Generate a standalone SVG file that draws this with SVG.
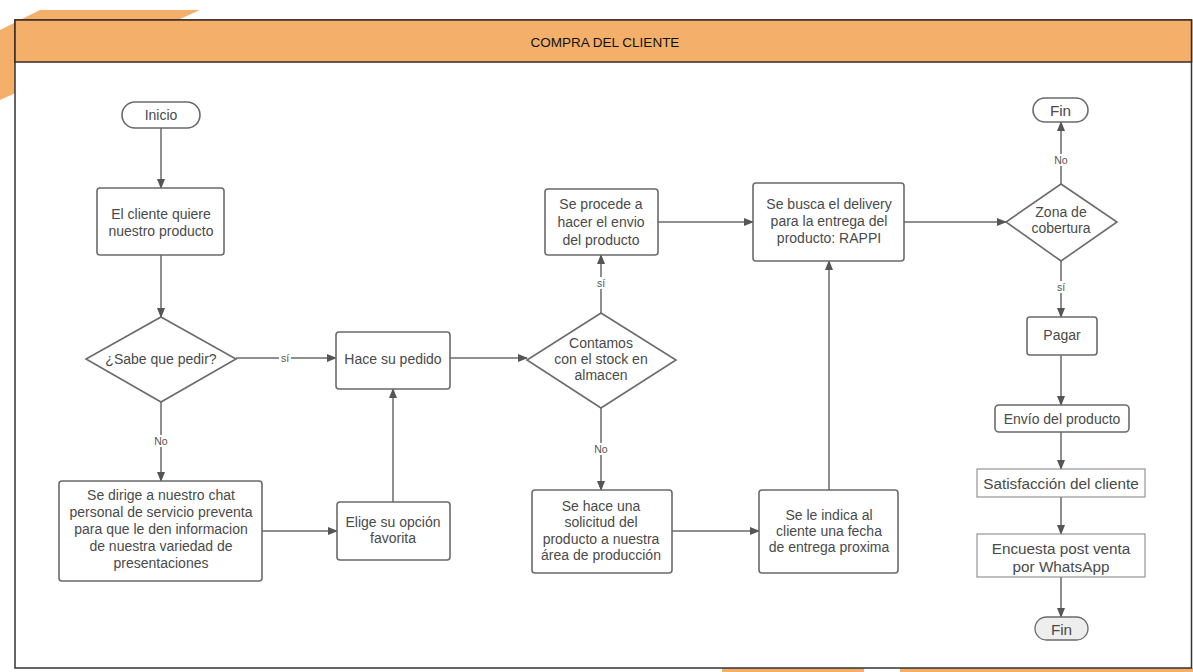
<svg xmlns="http://www.w3.org/2000/svg" width="1193" height="672" viewBox="0 0 1193 672">
<defs>
<marker id="ah" markerWidth="10" markerHeight="8" refX="9" refY="4" orient="auto" markerUnits="userSpaceOnUse">
<path d="M0,0 L10,4 L0,8 Z" fill="#555"/>
</marker>
<style>
.box{fill:#fff;stroke:#6a6a6a;stroke-width:1.6}
.thin{fill:#fff;stroke:#8a8a8a;stroke-width:1.1}
.t{font-family:"Liberation Sans",Arial,sans-serif;font-size:14px;fill:#4a4a4a;text-anchor:middle;dominant-baseline:central}
.tl{font-family:"Liberation Sans",Arial,sans-serif;font-size:15.3px;fill:#4a4a4a;text-anchor:middle;dominant-baseline:central}
.lbl{font-family:"Liberation Sans",Arial,sans-serif;font-size:10.5px;fill:#555;text-anchor:middle;dominant-baseline:central}
.c{fill:none;stroke:#6a6a6a;stroke-width:1.5;marker-end:url(#ah)}
</style>
</defs>
<rect width="1193" height="672" fill="#fff"/>
<g id="decor">
<polygon points="40,10 200,10 0,100 0,30" fill="#F4B06A"/>
<rect x="722" y="668" width="142" height="4" fill="#F4B06A"/>
<rect x="900" y="668" width="293" height="4" fill="#F4B06A"/>
</g>
<g id="frame">
<rect x="15" y="20" width="1176.5" height="648" fill="#fff" stroke="#333" stroke-width="1.5"/>
<rect x="15" y="20" width="1176.5" height="42" fill="#F4B06A" stroke="#3a2a20" stroke-width="1.5"/>
<text x="605" y="42" style="font-family:'Liberation Sans',Arial,sans-serif;font-size:13.5px;fill:#111;text-anchor:middle;dominant-baseline:central">COMPRA DEL CLIENTE</text>
</g>
<g id="connectors">
<path class="c" d="M161,128 V188"/>
<path class="c" d="M161,255 V317"/>
<path class="c" d="M236,358 H336"/>
<path class="c" d="M161,402 V481"/>
<path class="c" d="M262,531 H337"/>
<path class="c" d="M393,502 V389"/>
<path class="c" d="M450,358 H527"/>
<path class="c" d="M601,313 V255"/>
<path class="c" d="M601,408 V490"/>
<path class="c" d="M658,222 H753"/>
<path class="c" d="M672,531 H759"/>
<path class="c" d="M829,490 V261"/>
<path class="c" d="M904,222 H1006"/>
<path class="c" d="M1061,184 V122"/>
<path class="c" d="M1061,261 V317"/>
<path class="c" d="M1061,355 V405"/>
<path class="c" d="M1061,432 V469"/>
<path class="c" d="M1061,497 V534"/>
<path class="c" d="M1061,577 V617"/>
<rect x="279" y="352" width="12" height="12" fill="#fff"/>
<text class="lbl" x="285" y="358">sí</text>
<rect x="151" y="435" width="20" height="12" fill="#fff"/>
<text class="lbl" x="161" y="441">No</text>
<rect x="595" y="277" width="12" height="12" fill="#fff"/>
<text class="lbl" x="601" y="283">sí</text>
<rect x="591" y="443" width="20" height="12" fill="#fff"/>
<text class="lbl" x="601" y="449">No</text>
<rect x="1051" y="154" width="20" height="12" fill="#fff"/>
<text class="lbl" x="1061" y="160">No</text>
<rect x="1055" y="281" width="12" height="12" fill="#fff"/>
<text class="lbl" x="1061" y="287">sí</text>
</g>
<g id="inicio">
<rect class="box" x="122" y="102" width="78" height="26" rx="13"/>
<text class="t" x="161" y="115">Inicio</text>
</g>
<g id="cliente-quiere">
<rect class="box" x="97" y="188" width="127" height="67" rx="3"/>
<text class="t" x="161" y="214">El cliente quiere</text>
<text class="t" x="161" y="231">nuestro producto</text>
</g>
<g id="sabe-pedir">
<polygon class="box" points="161,317 236,359 161,402 86,359"/>
<text class="t" x="161" y="359">¿Sabe que pedir?</text>
</g>
<g id="se-dirige">
<rect class="box" x="59" y="481" width="203" height="100" rx="3"/>
<text class="t" x="161" y="495">Se dirige a nuestro chat</text>
<text class="t" x="161" y="512">personal de servicio preventa</text>
<text class="t" x="161" y="529">para que le den informacion</text>
<text class="t" x="161" y="546">de nuestra variedad de</text>
<text class="t" x="161" y="563">presentaciones</text>
</g>
<g id="hace-pedido">
<rect class="box" x="336" y="332" width="114" height="57" rx="3"/>
<text class="t" x="393" y="359">Hace su pedido</text>
</g>
<g id="elige">
<rect class="box" x="337" y="502" width="113" height="58" rx="3"/>
<text class="t" x="393" y="522">Elige su opción</text>
<text class="t" x="393" y="538">favorita</text>
</g>
<g id="contamos">
<polygon class="box" points="601,313 676,360 601,408 527,360"/>
<text class="t" x="601" y="343">Contamos</text>
<text class="t" x="601" y="359">con el stock en</text>
<text class="t" x="601" y="375">almacen</text>
</g>
<g id="se-procede">
<rect class="box" x="545" y="189" width="113" height="66" rx="3"/>
<text class="t" x="601" y="204">Se procede a</text>
<text class="t" x="601" y="222">hacer el envio</text>
<text class="t" x="601" y="240">del producto</text>
</g>
<g id="se-busca">
<rect class="box" x="753" y="183" width="151" height="78" rx="3"/>
<text class="t" x="829" y="204">Se busca el delivery</text>
<text class="t" x="829" y="221">para la entrega del</text>
<text class="t" x="829" y="238">producto: RAPPI</text>
</g>
<g id="se-hace">
<rect class="box" x="532" y="490" width="140" height="83" rx="3"/>
<text class="t" x="601" y="506">Se hace una</text>
<text class="t" x="601" y="522">solicitud del</text>
<text class="t" x="601" y="539">producto a nuestra</text>
<text class="t" x="601" y="555">área de producción</text>
</g>
<g id="se-le-indica">
<rect class="box" x="759" y="490" width="139" height="83" rx="3"/>
<text class="t" x="829" y="515">Se le indica al</text>
<text class="t" x="829" y="531">cliente una fecha</text>
<text class="t" x="829" y="547">de entrega proxima</text>
</g>
<g id="zona">
<polygon class="box" points="1061,184 1117,222 1061,261 1006,222"/>
<text class="t" x="1061" y="212">Zona de</text>
<text class="t" x="1061" y="228">cobertura</text>
</g>
<g id="fin-top">
<rect class="box" x="1033" y="98" width="55" height="24" rx="12"/>
<text class="tl" x="1060.5" y="110">Fin</text>
</g>
<g id="pagar">
<rect class="box" x="1027" y="317" width="70" height="38" rx="3"/>
<text class="t" x="1062" y="335">Pagar</text>
</g>
<g id="envio">
<rect class="box" x="995" y="405" width="134" height="27" rx="4"/>
<text class="t" x="1062" y="419">Envío del producto</text>
</g>
<g id="satisfaccion">
<rect class="thin" x="977" y="469" width="168" height="28"/>
<text class="tl" x="1061" y="483">Satisfacción del cliente</text>
</g>
<g id="encuesta">
<rect class="thin" x="977" y="534" width="168" height="43"/>
<text class="tl" x="1061" y="548">Encuesta post venta</text>
<text class="tl" x="1061" y="566">por WhatsApp</text>
</g>
<g id="fin-bottom">
<rect x="1035" y="617" width="53" height="23" rx="11.5" fill="#eeeeee" stroke="#6a6a6a" stroke-width="1.3"/>
<text class="tl" x="1061.5" y="629">Fin</text>
</g>
</svg>
